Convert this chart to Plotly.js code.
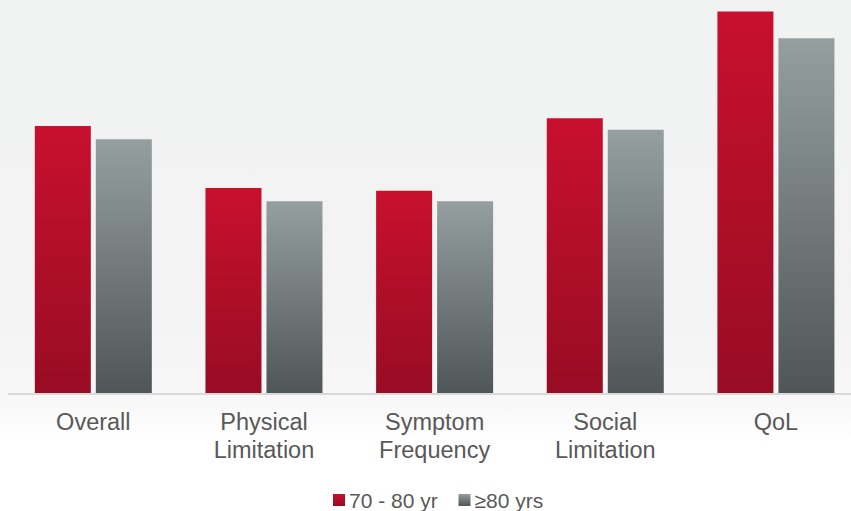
<!DOCTYPE html>
<html>
<head>
<meta charset="utf-8">
<script src="https://cdn.plot.ly/plotly-3.0.1.min.js"></script>
<style>
  html, body { margin: 0; padding: 0; background: #ffffff; }
  #chart {
    width: 851px; height: 511px;
    background: linear-gradient(to bottom, #f1f2f2 0px, #f3f3f3 300px, #f7f7f7 395px, #fcfcfc 425px, #ffffff 440px);
  }
</style>
</head>
<body>
<div id="chart"></div>
<script>
const categories = ["Overall", "Physical<br>Limitation", "Symptom<br>Frequency", "Social<br>Limitation", "QoL"];
const series1Name = "70 - 80 yr";
const series2Name = "≥80 yrs";
const series1Values = [14.0, 10.75, 10.6, 14.4, 20.0];
const series2Values = [13.3, 10.05, 10.05, 13.8, 18.6];

const traces = [
  { type: "bar", name: series1Name, x: categories, y: series1Values,
    marker: { color: "#b30e2a", line: { width: 0 } }, hoverinfo: "none" },
  { type: "bar", name: series2Name, x: categories, y: series2Values,
    marker: { color: "#737b7c", line: { width: 0 } }, hoverinfo: "none" }
];

const layout = {
  width: 851, height: 511,
  margin: { l: 8, r: 0, t: 0, b: 118, autoexpand: false },
  paper_bgcolor: "rgba(0,0,0,0)",
  plot_bgcolor: "rgba(0,0,0,0)",
  barmode: "group",
  bargap: 0.285,
  bargroupgap: 0.082,
  font: { family: "Liberation Sans, Arial, sans-serif", color: "#595959" },
  xaxis: {
    type: "category",
    range: [-0.5, 4.44],
    automargin: false,
    showline: true, linecolor: "#d9d9d9", linewidth: 2,
    ticks: "", showgrid: false, zeroline: false,
    ticklabelstandoff: 7,
    tickfont: { size: 23.5, color: "#595959" },
    fixedrange: true
  },
  yaxis: {
    visible: false, range: [0, 20.6], showgrid: false, zeroline: false, fixedrange: true
  },
  showlegend: true,
  legend: {
    orientation: "h", x: 0.5, xanchor: "center",
    yref: "container", y: 0.021, yanchor: "middle",
    font: { size: 21, color: "#595959" },
    bgcolor: "rgba(0,0,0,0)"
  }
};

Plotly.newPlot("chart", traces, layout, { displayModeBar: false, staticPlot: true }).then(function (gd) {
  const NS = "http://www.w3.org/2000/svg";
  const svg = gd.querySelector(".main-svg");
  let defs = svg.querySelector("defs");
  if (!defs) { defs = document.createElementNS(NS, "defs"); svg.insertBefore(defs, svg.firstChild); }
  function addGrad(id, top, bottom) {
    const g = document.createElementNS(NS, "linearGradient");
    g.setAttribute("id", id);
    g.setAttribute("x1", "0"); g.setAttribute("y1", "0");
    g.setAttribute("x2", "0"); g.setAttribute("y2", "1");
    [[0, top], [1, bottom]].forEach(function (s) {
      const st = document.createElementNS(NS, "stop");
      st.setAttribute("offset", s[0]);
      st.setAttribute("stop-color", s[1]);
      g.appendChild(st);
    });
    defs.appendChild(g);
  }
  addGrad("gradRed", "#c8102e", "#980c23");
  addGrad("gradGray", "#969f9f", "#4e5658");
  const ids = ["gradRed", "gradGray"];
  gd.querySelectorAll(".barlayer .trace").forEach(function (t, i) {
    t.querySelectorAll("path").forEach(function (p) { p.style.fill = "url(#" + ids[i] + ")"; });
  });

  // tighter line spacing for two-line tick labels (reference ~28px)
  gd.querySelectorAll(".xtick text tspan.line").forEach(function (ts) {
    const dy = ts.getAttribute("dy");
    if (dy && /em$/.test(dy) && parseFloat(dy) > 0) {
      ts.setAttribute("dy", (parseFloat(dy) * 28 / (1.3 * 23.5)) + "em");
    }
  });

  // Legend: tighter symbol/text spacing like the reference
  const items = gd.querySelectorAll(".legend .traces");
  const symGap = 10;
  const itemStep = 125.5;
  let firstX = null;
  items.forEach(function (t, i) {
    t.querySelectorAll(".legendpoints path").forEach(function (p) { p.style.fill = "url(#" + ids[i] + ")"; });
    const txt = t.querySelector(".legendtext");
    if (txt) txt.setAttribute("x", String(parseFloat(txt.getAttribute("x")) - symGap));
    const m = /translate\(([-\d.]+)[ ,]*([-\d.]+)?\)/.exec(t.getAttribute("transform") || "");
    const tx = m ? parseFloat(m[1]) : 0, ty = m && m[2] ? parseFloat(m[2]) : 0;
    if (i === 0) { firstX = tx; }
    else t.setAttribute("transform", "translate(" + (firstX + itemStep * i) + "," + ty + ")");
  });
  const firstSym = items[0] && items[0].querySelector(".legendpoints path");
  if (firstSym) {
    const r = firstSym.getBoundingClientRect();
    const cx = r.left + r.width / 2;
    const lg = gd.querySelector(".legend");
    const m = /translate\(([-\d.]+)[ ,]*([-\d.]+)?\)/.exec(lg.getAttribute("transform") || "");
    const lx = m ? parseFloat(m[1]) : 0, ly = m && m[2] ? parseFloat(m[2]) : 0;
    lg.setAttribute("transform", "translate(" + (lx + 339 - cx) + "," + ly + ")");
  }
});
</script>
</body>
</html>
